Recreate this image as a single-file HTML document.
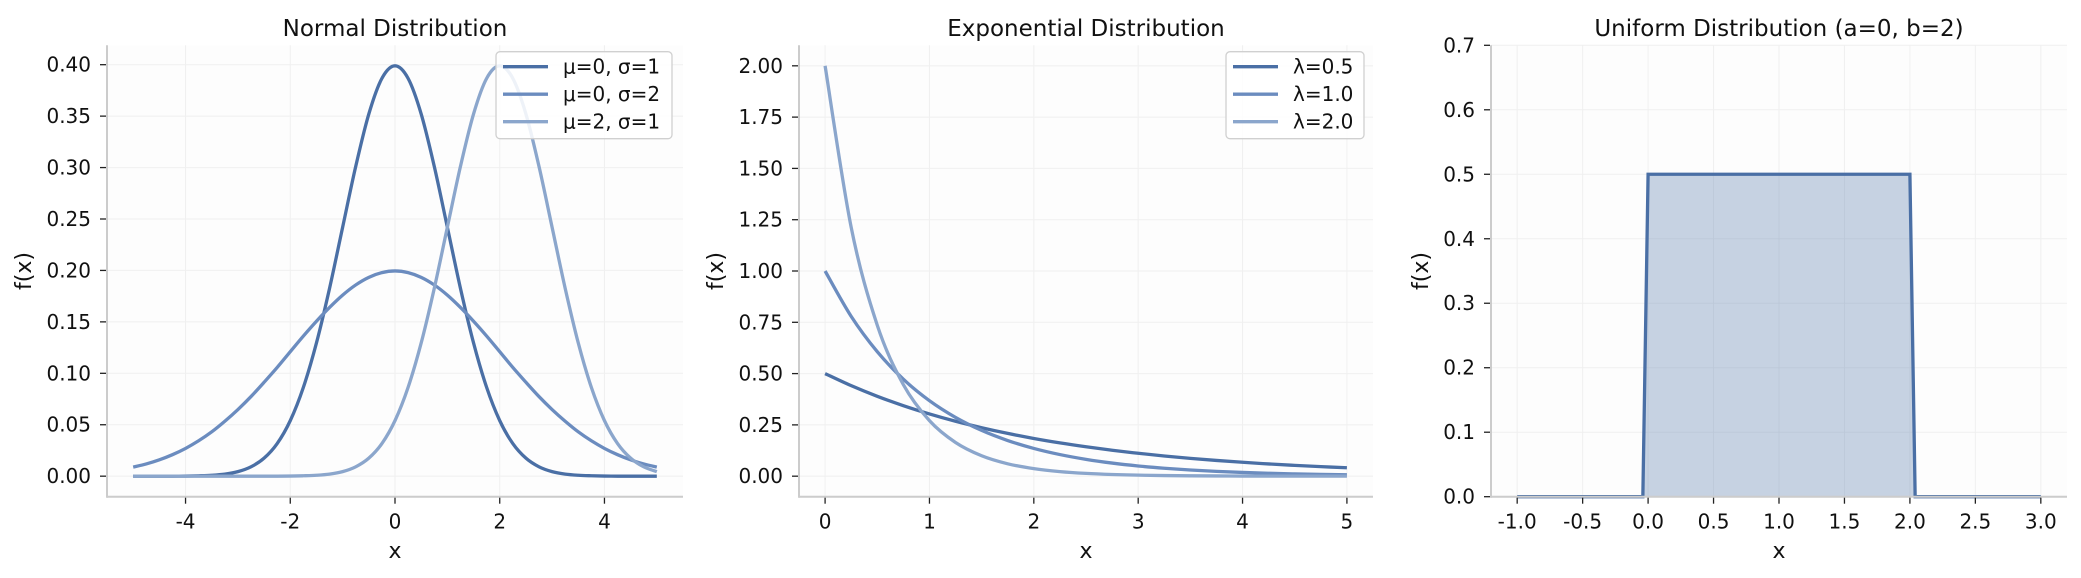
<!DOCTYPE html>
<html><head><meta charset="utf-8">
<style>
html,body{margin:0;padding:0;background:#fff;}
svg{display:block;font-family:"DejaVu Sans","Liberation Sans",sans-serif;}
</style></head>
<body>
<svg id="fig" width="2081" height="578" viewBox="0 0 2081 578" xmlns="http://www.w3.org/2000/svg"></svg>
<script>
// ---------- data ----------
const normX = [-5,-4.75,-4.5,-4.25,-4,-3.75,-3.5,-3.25,-3,-2.75,-2.5,-2.25,-2,-1.75,-1.5,-1.25,-1,-0.75,-0.5,-0.25,0,0.25,0.5,0.75,1,1.25,1.5,1.75,2,2.25,2.5,2.75,3,3.25,3.5,3.75,4,4.25,4.5,4.75,5];
const normS1 = [0,0,0,0,0.0001,0.0004,0.0009,0.0020,0.0044,0.0091,0.0175,0.0317,0.0540,0.0863,0.1295,0.1826,0.2420,0.3011,0.3521,0.3867,0.3989,0.3867,0.3521,0.3011,0.2420,0.1826,0.1295,0.0863,0.0540,0.0317,0.0175,0.0091,0.0044,0.0020,0.0009,0.0004,0.0001,0,0,0,0];
const normS2 = [0.0088,0.0119,0.0159,0.0209,0.0270,0.0344,0.0431,0.0534,0.0648,0.0774,0.0913,0.1057,0.1210,0.1362,0.1506,0.1640,0.1760,0.1859,0.1933,0.1979,0.1995,0.1979,0.1933,0.1859,0.1760,0.1640,0.1506,0.1362,0.1210,0.1057,0.0913,0.0774,0.0648,0.0534,0.0431,0.0344,0.0270,0.0209,0.0159,0.0119,0.0088];
const normM2 = [0,0,0,0,0,0,0,0,0,0,0,0,0,0,0,0,0,0,0.0001,0.0004,0.0009,0.0020,0.0044,0.0091,0.0175,0.0317,0.0540,0.0863,0.1295,0.1826,0.2420,0.3011,0.3521,0.3867,0.3989,0.3867,0.3521,0.3011,0.2420,0.1826,0.1295,0.0863,0.0540,0.0317,0.0175,0.0091,0.0044];
const expX = [0,0.25,0.5,0.75,1,1.25,1.5,1.75,2,2.25,2.5,2.75,3,3.25,3.5,3.75,4,4.25,4.5,4.75,5];
const expL05 = [0.5,0.4412,0.3894,0.3436,0.3033,0.2676,0.2362,0.2084,0.1839,0.1623,0.1433,0.1264,0.1116,0.0985,0.0869,0.0767,0.0677,0.0597,0.0527,0.0465,0.0410];
const expL1 = [1,0.7788,0.6065,0.4724,0.3679,0.2865,0.2231,0.1738,0.1353,0.1054,0.0821,0.0639,0.0498,0.0388,0.0302,0.0235,0.0183,0.0143,0.0111,0.0087,0.0067];
const expL2 = [2,1.2131,0.7358,0.4463,0.2707,0.1642,0.0996,0.0604,0.0366,0.0222,0.0135,0.0082,0.0050,0.0030,0.0018,0.0011,0.0007,0.0004,0.0002,0.0001,0.0001];
const uniX = [-1,-0.04,0,2,2.04,3];
const uniY = [0,0,0.5,0.5,0,0];
const normXTicks = [-4,-2,0,2,4];
const normYTicks = [0,0.05,0.10,0.15,0.20,0.25,0.30,0.35,0.40];
const expXTicks = [0,1,2,3,4,5];
const expYTicks = [0,0.25,0.5,0.75,1,1.25,1.5,1.75,2];
const uniXTicks = [-1,-0.5,0,0.5,1,1.5,2,2.5,3];
const uniYTicks = [0,0.1,0.2,0.3,0.4,0.5,0.6,0.7];
const normLabels = ["μ=0, σ=1","μ=0, σ=2","μ=2, σ=1"];
const expLabels = ["λ=0.5","λ=1.0","λ=2.0"];
// normM2 is aligned so that index i corresponds to normX[i]
const normM2Aligned = normM2.slice(normM2.length - normX.length);

const C1="#4a6fa5", C2="#6b8cbf", C3="#8ba6cc";
const NS="http://www.w3.org/2000/svg";
const svg=document.getElementById('fig');
function el(tag,attrs,parent){const e=document.createElementNS(NS,tag);for(const k in attrs)e.setAttribute(k,attrs[k]);(parent||svg).appendChild(e);return e;}

function makeAxes(o){
  const g=el('g',{});
  
  
  const sx=v=>o.L+(v-o.x0)/(o.x1-o.x0)*(o.R-o.L);
  const sy=v=>o.B-(v-o.y0)/(o.y1-o.y0)*(o.B-o.T);
  el('rect',{x:o.L,y:o.T,width:o.R-o.L,height:o.B-o.T,fill:'#fdfdfd'},g);
  o.xt.forEach(t=>{
    el('line',{x1:sx(t),x2:sx(t),y1:o.T,y2:o.B,stroke:'#f0f0f0','stroke-width':1},g);
  });
  o.yt.forEach(t=>{
    el('line',{x1:o.L,x2:o.R,y1:sy(t),y2:sy(t),stroke:'#f0f0f0','stroke-width':1},g);
  });
  return {g,sx,sy};
}
function finishAxes(a,o){
  const g=a.g;
  el('line',{x1:o.L,x2:o.L,y1:o.T,y2:o.B+1,stroke:'#cccccc','stroke-width':2},g);
  el('line',{x1:o.L,x2:o.R,y1:o.B,y2:o.B,stroke:'#cccccc','stroke-width':2},g);
  o.xt.forEach(t=>{
    const x=a.sx(t);
    el('line',{x1:x,x2:x,y1:o.B+1,y2:o.B+7,stroke:'#222','stroke-width':1.3},g);
    const tx=el('text',{x:x,y:o.B+32,'font-size':20,'text-anchor':'middle',fill:'#111'},g);
    
    
    tx.textContent=o.xf(t);
  });
  o.yt.forEach(t=>{
    const y=a.sy(t);
    el('line',{x1:o.L-7,x2:o.L-1,y1:y,y2:y,stroke:'#222','stroke-width':1.3},g);
    const tx=el('text',{x:o.L-16,y:y+7,'font-size':20,'text-anchor':'end',fill:'#111'},g);
    
    
    tx.textContent=o.yf(t);
  });
  const tt=el('text',{x:(o.L+o.R)/2,y:36,'font-size':23,'text-anchor':'middle',fill:'#111'},g);
  
  
  tt.textContent=o.title;
  const xl=el('text',{x:(o.L+o.R)/2,y:558,'font-size':22,'text-anchor':'middle',fill:'#111'},g);
  
  
  xl.textContent='x';
  const cy=(o.T+o.B)/2;
  const yl=el('text',{x:o.ylx,y:cy,'font-size':22,'text-anchor':'middle',fill:'#111',transform:`rotate(-90 ${o.ylx} ${cy})`},g);
  
  
  yl.textContent='f(x)';
}
function smoothPath(pts){
  let d=`M${pts[0][0].toFixed(2)},${pts[0][1].toFixed(2)}`;
  for(let i=0;i<pts.length-1;i++){
    const p0=pts[Math.max(0,i-1)],p1=pts[i],p2=pts[i+1],p3=pts[Math.min(pts.length-1,i+2)];
    const c1=[p1[0]+(p2[0]-p0[0])/6,p1[1]+(p2[1]-p0[1])/6];
    const c2=[p2[0]-(p3[0]-p1[0])/6,p2[1]-(p3[1]-p1[1])/6];
    d+=` C${c1[0].toFixed(2)},${c1[1].toFixed(2)} ${c2[0].toFixed(2)},${c2[1].toFixed(2)} ${p2[0].toFixed(2)},${p2[1].toFixed(2)}`;
  }
  return d;
}
function series(a,xs,ys,color,name){
  const pts=xs.map((x,i)=>[a.sx(x),a.sy(ys[i])]);
  const p=el('path',{d:smoothPath(pts),fill:'none',stroke:color,'stroke-width':3.3,'stroke-linejoin':'round'},a.g);
  
  
}
function legend(g,x,y,w,labels,colors,name){
  const lg=el('g',{},g);
  
  
  el('rect',{x:x,y:y,width:w,height:87,rx:4,fill:'#ffffff','fill-opacity':0.85,stroke:'#d0d0d0','stroke-width':1.3},lg);
  labels.forEach((lab,i)=>{
    const yy=y+15+i*27.5;
    const en=el('g',{},lg);
    
    
    el('line',{x1:x+7,x2:x+52,y1:yy,y2:yy,stroke:colors[i],'stroke-width':3.3},en);
    const t=el('text',{x:x+67,y:yy+7,'font-size':20,fill:'#111'},en);
    t.textContent=lab;
  });
}

// Panel 1
const o1={name:'normal-panel',L:107,R:683,T:45.3,B:496.7,x0:-5.5,x1:5.5,y0:-0.01995,y1:0.41885,xt:normXTicks,yt:normYTicks,xf:v=>String(v),yf:v=>v.toFixed(2),title:'Normal Distribution',ylx:31};
const a1=makeAxes(o1);
series(a1,normX,normS1,C1,'line-mu0-sigma1');
series(a1,normX,normS2,C2,'line-mu0-sigma2');
series(a1,normX,normM2Aligned,C3,'line-mu2-sigma1');
finishAxes(a1,o1);
legend(a1.g,496,51.7,176,normLabels,[C1,C2,C3],'normal-legend');

// Panel 2
const o2={name:'exponential-panel',L:799,R:1373,T:45.3,B:496.7,x0:-0.25,x1:5.25,y0:-0.1,y1:2.1,xt:expXTicks,yt:expYTicks,xf:v=>String(v),yf:v=>v.toFixed(2),title:'Exponential Distribution',ylx:723};
const a2=makeAxes(o2);
series(a2,expX,expL05,C1,'line-lambda-0.5');
series(a2,expX,expL1,C2,'line-lambda-1.0');
series(a2,expX,expL2,C3,'line-lambda-2.0');
finishAxes(a2,o2);
legend(a2.g,1226,51.7,138,expLabels,[C1,C2,C3],'exponential-legend');

// Panel 3
const o3={name:'uniform-panel',L:1491,R:2067,T:45.3,B:496.7,x0:-1.2,x1:3.2,y0:0,y1:0.7,xt:uniXTicks,yt:uniYTicks,xf:v=>v.toFixed(1),yf:v=>v.toFixed(1),title:'Uniform Distribution (a=0, b=2)',ylx:1428};
const a3=makeAxes(o3);
// fill between over support
{
  const i0=2,i1=3;
  let d=`M${a3.sx(uniX[i0-1])},${a3.sy(0)} L${a3.sx(uniX[i0])},${a3.sy(uniY[i0])} L${a3.sx(uniX[i1])},${a3.sy(uniY[i1])} L${a3.sx(uniX[i1+1])},${a3.sy(0)} Z`;
  const f=el('path',{d:d,fill:'#4a6fa5','fill-opacity':0.3},a3.g);
  
  
  const pts=uniX.map((x,i)=>`${a3.sx(x).toFixed(2)},${a3.sy(uniY[i]).toFixed(2)}`).join(' ');
  const pl=el('polyline',{points:pts,fill:'none',stroke:C1,'stroke-width':3.3,'stroke-linejoin':'miter'},a3.g);
  
  
}
finishAxes(a3,o3);
</script>
</body></html>
